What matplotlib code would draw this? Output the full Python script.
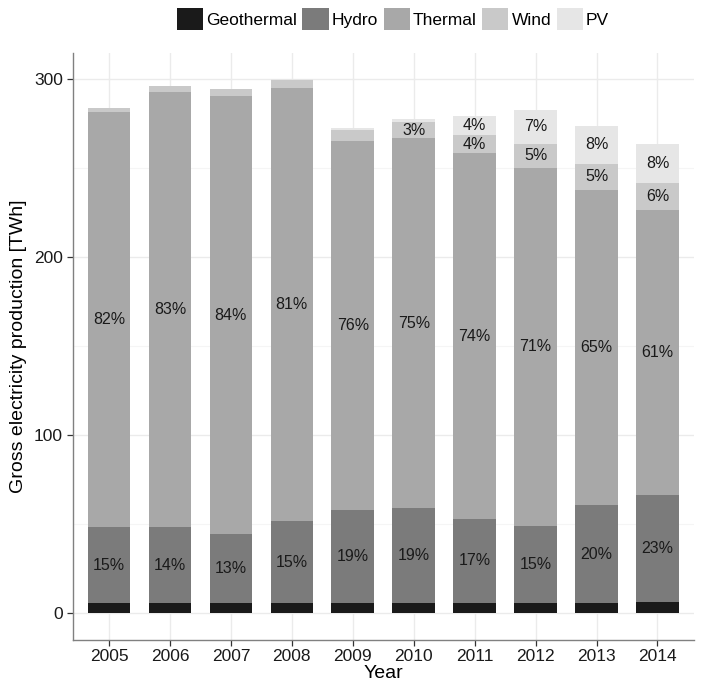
import matplotlib
matplotlib.use("Agg")
import matplotlib.pyplot as plt
import numpy as np

plt.rcParams["font.family"] = ["Liberation Sans", "DejaVu Sans"]

# Data (TWh)
years = [2005, 2006, 2007, 2008, 2009, 2010, 2011, 2012, 2013, 2014]
sources = ["Geothermal", "Hydro", "Thermal", "Wind", "PV"]
geothermal = [5.3, 5.5, 5.6, 5.5, 5.3, 5.4, 5.7, 5.6, 5.7, 5.9]
hydro = [42.9, 42.5, 38.5, 46.0, 52.5, 53.4, 47.0, 43.0, 54.7, 60.3]
thermal = [233.3, 244.7, 246.5, 243.5, 207.5, 208.0, 205.8, 201.8, 177.5, 160.2]
wind = [2.3, 3.3, 4.0, 4.9, 6.5, 9.2, 10.0, 13.4, 14.5, 15.2]
pv = [0.03, 0.04, 0.04, 0.2, 0.7, 1.9, 10.8, 18.9, 21.6, 22.3]
colors = ["#1a1a1a", "#7b7b7b", "#a8a8a8", "#c9c9c9", "#e6e6e6"]

series = np.array([geothermal, hydro, thermal, wind, pv])
totals = series.sum(axis=0)
x = np.arange(len(years))

fig = plt.figure(figsize=(7.01, 6.87), dpi=100)
ax = fig.add_axes([72.5 / 701, 1 - 639.5 / 687, (694 - 72.5) / 701, (639.5 - 52.5) / 687])

bottom = np.zeros(len(years))
handles = []
for name, vals, col in zip(sources, series, colors):
    h = ax.bar(x, vals, width=0.7, bottom=bottom, color=col, label=name, zorder=3)
    handles.append(h)
    pct = vals / totals * 100
    # percentage labels only for shares of 3% and more
    for i in range(len(years)):
        if round(pct[i]) >= 3 and name != "Geothermal":
            ax.text(x[i], bottom[i] + vals[i] / 2, f"{round(pct[i]):.0f}%",
                    ha="center", va="center", fontsize=11.5, color="#1a1a1a", zorder=4)
    bottom += vals

ax.set_xlim(-0.6, len(years) - 0.4)
ax.set_ylim(-15, totals.max() * 1.05)
ax.set_xticks(x)
ax.set_xticklabels([str(y) for y in years])
ax.set_yticks([0, 100, 200, 300])
ax.set_yticks([50, 150, 250], minor=True)

ax.grid(True, which="major", color="#ebebeb", lw=1.0, zorder=0)
ax.grid(True, which="minor", axis="y", color="#f5f5f5", lw=0.8, zorder=0)
ax.set_axisbelow(True)

for s in ["top", "right"]:
    ax.spines[s].set_visible(False)
for s in ["left", "bottom"]:
    ax.spines[s].set_color("#808080")
    ax.spines[s].set_linewidth(1.0)

ax.tick_params(which="major", length=4.3, width=0.9, color="#333333",
               labelsize=12.5, labelcolor="#1a1a1a", pad=2.5)
ax.tick_params(which="minor", length=0)

ax.set_xlabel("Year", fontsize=14, labelpad=1)
ax.set_ylabel("Gross electricity production [TWh]", fontsize=14, labelpad=5)

fig.legend(handles=handles, labels=sources, loc="center", ncol=5,
           bbox_to_anchor=(393 / 701, 1 - 19 / 687), frameon=False,
           fontsize=12.5, handlelength=1.5, handleheight=1.5,
           handletextpad=0.2, columnspacing=0.3, borderpad=0)

fig.savefig("out.png", dpi=100)
